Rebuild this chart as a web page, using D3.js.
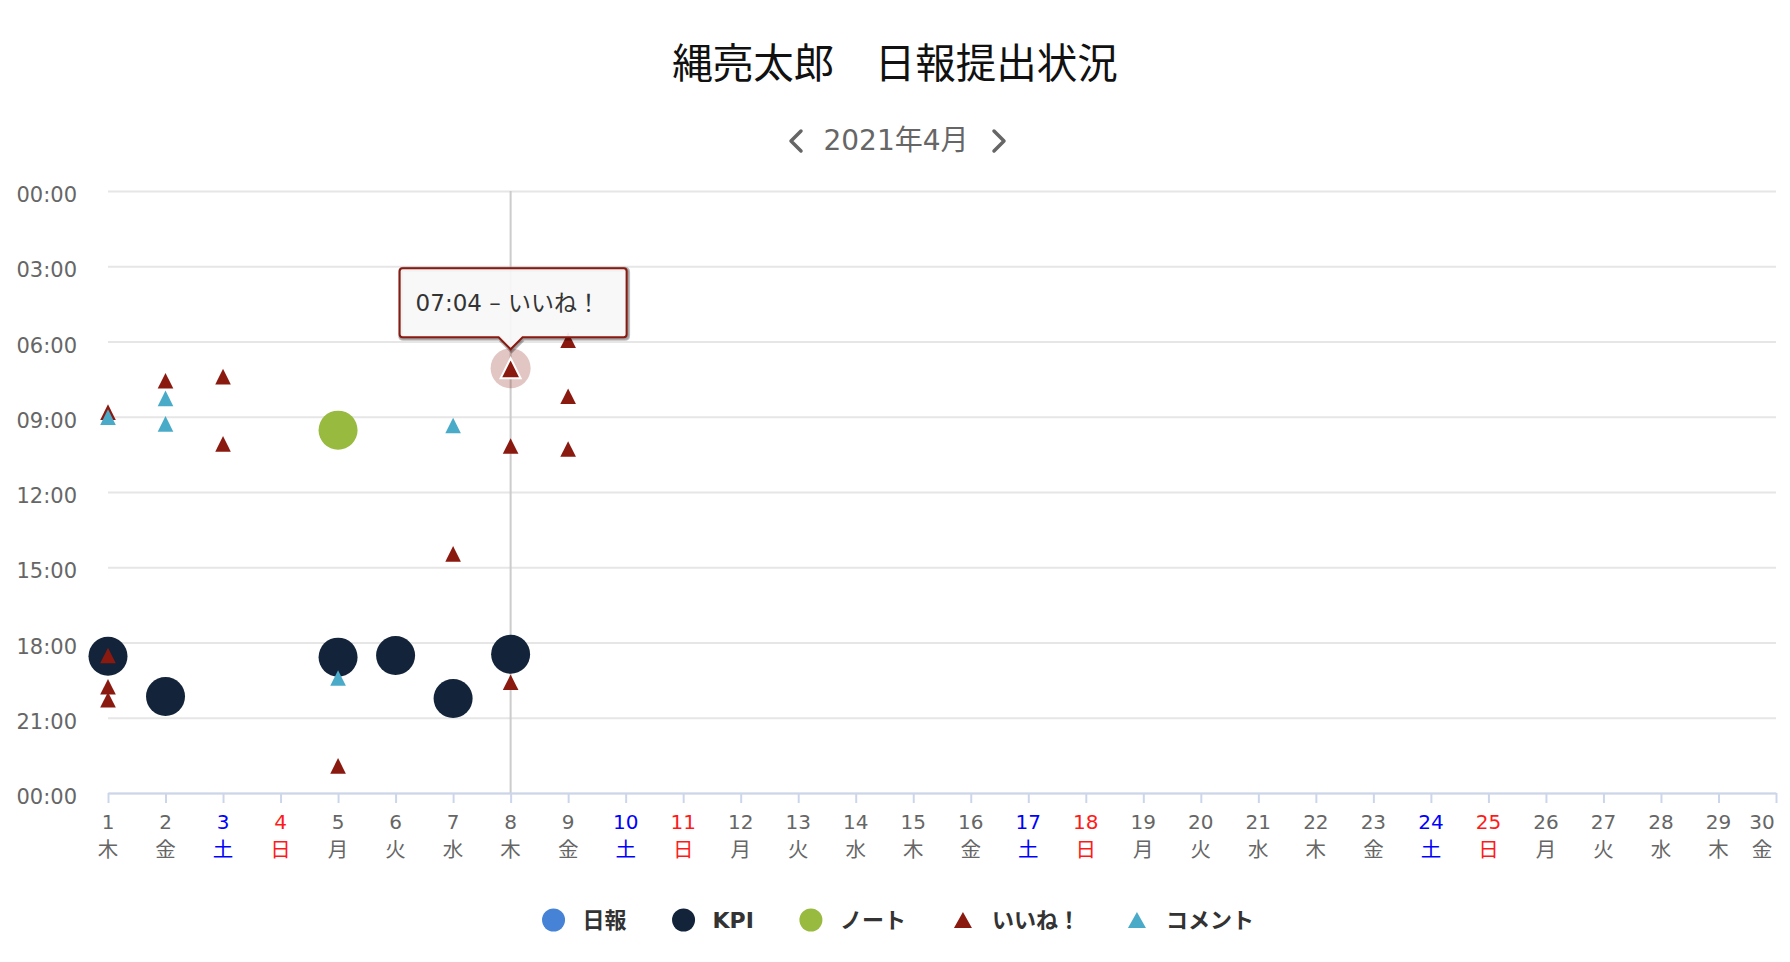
<!DOCTYPE html>
<html>
<head>
<meta charset="utf-8">
<script src="https://cdn.jsdelivr.net/npm/d3@7"></script>
<style>
  body { margin: 0; background: #fff; }
  svg { display: block; font-family: "DejaVu Sans", "Noto Sans CJK JP", sans-serif; }
</style>
</head>
<body>
<div id="chart"></div>
<script>
// ---- data ----
const titleText = '縄亮太郎　日報提出状況';
const monthText = '2021年4月';
const days = [1,2,3,4,5,6,7,8,9,10,11,12,13,14,15,16,17,18,19,20,21,22,23,24,25,26,27,28,29,30];
const weekdays = ['木','金','土','日','月','火','水','木','金','土','日','月','火','水',
                  '木','金','土','日','月','火','水','木','金','土','日','月','火','水','木','金'];
const hourTicks = [0,3,6,9,12,15,18,21,24];

// [day, time]
const reportTimes = [];
const kpiTimes = [[1,'18:33'],[2,'20:09'],[5,'18:35'],[6,'18:31'],[7,'20:14'],[8,'18:28']];
const noteTimes = [[5,'09:32']];
const likeTimes = [[1,'08:49'],[1,'18:31'],[1,'19:46'],[1,'20:17'],[2,'07:34'],[3,'07:24'],[3,'10:05'],
                   [5,'22:55'],[7,'14:28'],[8,'07:04'],[8,'10:10'],[8,'19:35'],[9,'05:57'],[9,'08:11'],[9,'10:17']];
const commentTimes = [[1,'09:01'],[2,'08:16'],[2,'09:17'],[5,'19:25'],[7,'09:21']];

const series = [
  {name: '日報',    color: '#4683d6', symbol: 'circle',   data: reportTimes},
  {name: 'KPI',     color: '#132339', symbol: 'circle',   data: kpiTimes},
  {name: 'ノート',  color: '#97ba3f', symbol: 'circle',   data: noteTimes},
  {name: 'いいね！', color: '#8a1a10', symbol: 'triangle', data: likeTimes},
  {name: 'コメント', color: '#4aabc9', symbol: 'triangle', data: commentTimes}
];
const hovered = {series: 3, index: 9}; // 8日 07:04 いいね！

// ---- layout ----
const width = 1790, height = 962;
const margin = {top: 191, right: 14, bottom: 169, left: 108};
const plotW = width - margin.left - margin.right;
const plotH = height - margin.top - margin.bottom;

const toHours = t => { const [h, m] = t.split(':').map(Number); return h + m / 60; };
const pad = n => String(n % 24).padStart(2, '0') + ':00';

const scaleX = d3.scaleLinear([1, 30], [0, plotW]);
const scaleY = d3.scaleLinear([0, 24], [0, plotH]);

const svg = d3.select('#chart').append('svg')
  .attr('width', width).attr('height', height);

// title + month switcher
svg.append('text')
  .attr('x', width / 2).attr('y', 78)
  .attr('text-anchor', 'middle')
  .style('font-family', '"Noto Sans CJK JP", sans-serif')
  .style('font-size', '40.5px').attr('fill', '#111')
  .text(titleText);

svg.append('text')
  .attr('x', width / 2 + 1).attr('y', 150)
  .attr('text-anchor', 'middle')
  .style('font-size', '28px').attr('fill', '#666')
  .text(monthText);
const chev = svg.append('g').attr('fill', 'none').attr('stroke', '#666')
  .attr('stroke-width', 3.5).attr('stroke-linecap', 'round').attr('stroke-linejoin', 'round');
chev.append('path').attr('d', 'M801,131 L791,141 L801,151');
chev.append('path').attr('d', 'M994,131 L1004,141 L994,151');

const chart = svg.append('g')
  .attr('transform', `translate(${margin.left},${margin.top})`);

// horizontal gridlines
const gridY = chart.append('g')
  .call(d3.axisLeft(scaleY).tickValues(hourTicks).tickSize(-plotW).tickFormat(''));
gridY.select('.domain').remove();
gridY.selectAll('line').attr('stroke', '#e6e6e6').attr('stroke-width', 2);

// y labels
chart.append('g').selectAll('text')
  .data(hourTicks)
  .join('text')
  .attr('x', -31).attr('y', d => scaleY(d) + 11)
  .attr('text-anchor', 'end')
  .style('font-size', '21px').attr('fill', '#666')
  .text(d => pad(d));

// crosshair at hovered day
const hp = series[hovered.series].data[hovered.index];
chart.append('line')
  .attr('x1', scaleX(hp[0])).attr('x2', scaleX(hp[0]))
  .attr('y1', 0).attr('y2', plotH)
  .attr('stroke', '#cccccc').attr('stroke-width', 2);

// x axis
const axisX = chart.append('g')
  .attr('transform', `translate(0,${plotH})`)
  .call(d3.axisBottom(scaleX).tickValues(days).tickSize(10).tickSizeOuter(0).tickFormat(''));
axisX.select('.domain').attr('stroke', '#ccd6eb').attr('stroke-width', 2);
axisX.selectAll('.tick line').attr('stroke', '#ccd6eb').attr('stroke-width', 2);

const dayColor = i => weekdays[i] === '土' ? '#0000ff' : weekdays[i] === '日' ? '#ff1a1a' : '#666';
const labelX = d => Math.min(scaleX(d), plotW - 14);
const xLabels = chart.append('g').attr('transform', `translate(0,${plotH})`)
  .selectAll('text')
  .data(days)
  .join('text')
  .attr('text-anchor', 'middle')
  .style('font-size', '20px')
  .attr('fill', (d, i) => dayColor(i));
xLabels.append('tspan').attr('x', labelX).attr('y', 36).text(d => d);
xLabels.append('tspan').attr('x', labelX).attr('y', 64)
  .style('font-family', '"Noto Sans CJK JP", sans-serif')
  .style('font-size', '20.5px')
  .text((d, i) => weekdays[i]);

// markers
const triangle = (r) => `M0,${-r} L${r},${r} L${-r},${r} Z`;
series.forEach(s => {
  const g = chart.append('g').attr('fill', s.color);
  if (s.symbol === 'circle') {
    g.selectAll('circle').data(s.data).join('circle')
      .attr('cx', d => scaleX(d[0])).attr('cy', d => scaleY(toHours(d[1])))
      .attr('r', 19.5);
  } else {
    g.selectAll('path').data(s.data).join('path')
      .attr('transform', d => `translate(${scaleX(d[0])},${scaleY(toHours(d[1]))})`)
      .attr('d', triangle(7.8));
  }
});

// hover state
const hs = series[hovered.series];
const hx = scaleX(hp[0]), hy = scaleY(toHours(hp[1]));
chart.append('circle').attr('cx', hx).attr('cy', hy).attr('r', 20)
  .attr('fill', hs.color).attr('fill-opacity', 0.25);
chart.append('path').attr('transform', `translate(${hx},${hy})`)
  .attr('d', triangle(10)).attr('fill', hs.color)
  .attr('stroke', '#fff').attr('stroke-width', 2);

// tooltip
const tipW = 227, tipH = 69;
const tL = hx - 111, tB = hy - 31, tT = tB - tipH, tR = tL + tipW, cr = 3;
const tipPath = `M${tL + cr},${tT} L${tR - cr},${tT} Q${tR},${tT} ${tR},${tT + cr}
  L${tR},${tB - cr} Q${tR},${tB} ${tR - cr},${tB} L${hx + 12},${tB} L${hx},${tB + 12} L${hx - 12},${tB}
  L${tL + cr},${tB} Q${tL},${tB} ${tL},${tB - cr} L${tL},${tT + cr} Q${tL},${tT} ${tL + cr},${tT} Z`;
const tip = chart.append('g');
[5, 3, 1].forEach(w => {
  tip.append('path').attr('d', tipPath).attr('transform', 'translate(1,1)')
    .attr('fill', 'none').attr('stroke', '#000').attr('stroke-opacity', 0.05 * w)
    .attr('stroke-width', w);
});
tip.append('path').attr('d', tipPath)
  .attr('fill', 'rgba(247,247,247,0.92)').attr('stroke', hs.color).attr('stroke-width', 2);
tip.append('text')
  .attr('x', tL + 16).attr('y', (tT + tB) / 2 + 8.5)
  .style('font-size', '23px').attr('fill', '#333')
  .text(`${hp[1]} – ${hs.name}`);

// legend
const legend = svg.append('g');
const gap = 57;
let cx = 0;
series.forEach(s => {
  const item = legend.append('g');
  if (s.symbol === 'circle') {
    item.append('circle').attr('r', 11.5).attr('fill', s.color);
  } else {
    item.append('path').attr('d', 'M0,-8 L9,8 L-9,8 Z').attr('fill', s.color);
  }
  const t = item.append('text').attr('x', 29).attr('y', 8)
    .style('font-size', '22px').style('font-weight', 'bold').attr('fill', '#333')
    .text(s.name);
  const w = t.node().getComputedTextLength();
  item.attr('transform', `translate(${cx},0)`);
  cx += 29 + w + gap;
});
const total = cx - gap + 11.5;
legend.attr('transform', `translate(${width / 2 - total / 2 + 11.5 + 3},920)`);
</script>
</body>
</html>
